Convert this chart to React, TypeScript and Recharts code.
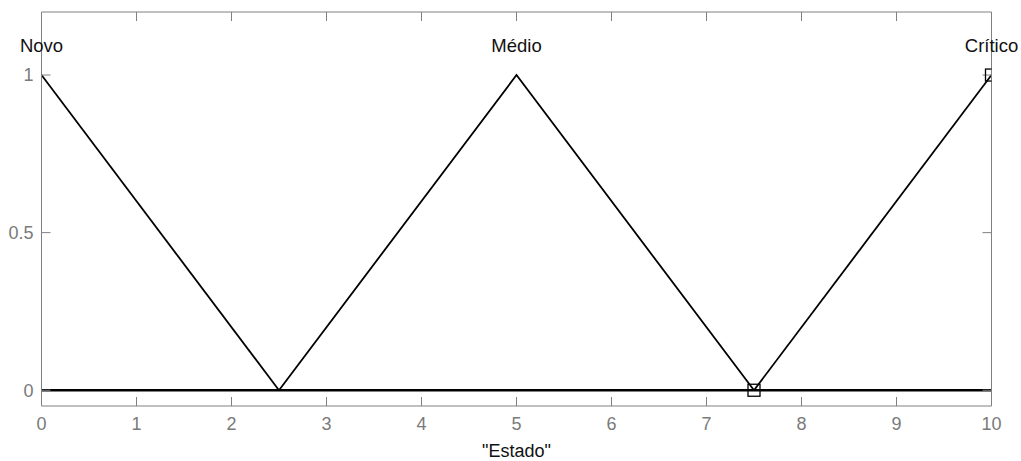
import { ComposedChart, Line, Scatter, XAxis, YAxis } from "recharts";

const xTicks = [0, 1, 2, 3, 4, 5, 6, 7, 8, 9, 10];
const yTicks = [0, 0.5, 1];

const novoX = [0, 2.5];
const novoY = [1, 0];
const medioX = [2.5, 5, 7.5];
const medioY = [0, 1, 0];
const criticoX = [7.5, 10];
const criticoY = [0, 1];
const baseX = [0, 10];
const baseY = [0, 0];
const markerX = [7.5, 10];
const markerY = [0, 1];

const termNames = ["Novo", "Médio", "Crítico"];
const termPeaks = [0, 5, 10];
const termLabelY = 1.095;

const pts = (xs: number[], ys: number[]) => xs.map((x, i) => ({ x, y: ys[i] }));

const novo = pts(novoX, novoY);
const medio = pts(medioX, medioY);
const critico = pts(criticoX, criticoY);
const base = pts(baseX, baseY);
const markers = pts(markerX, markerY);
const termLabels = termNames.map((name, i) => ({ name, x: termPeaks[i], y: termLabelY }));

const gray = "#808080";
const tickStyle = { fill: "#7a7a7a", fontSize: 18 };

const SquareMarker = (p: any) => (
  <rect x={p.cx - 6} y={p.cy - 6} width={12} height={12} fill="none" stroke="#000" strokeWidth={1.3} />
);

const TermLabel = (p: any) => (
  <text x={p.cx} y={p.cy} textAnchor="middle" dominantBaseline="central" fontSize={18.5} fill="#111">
    {p.payload.name}
  </text>
);

export default function App() {
  return (
    <div style={{ position: "absolute", left: 0, top: 0, fontFamily: "'Liberation Sans', Arial, sans-serif" }}>
      <ComposedChart width={1021} height={461} margin={{ top: 0, right: 0, bottom: 0, left: 0 }}>
        <XAxis
          xAxisId="b"
          type="number"
          dataKey="x"
          domain={[0, 10]}
          ticks={xTicks}
          allowDataOverflow
          height={55}
          stroke={gray}
          tickSize={-9}
          tickMargin={20}
          tick={tickStyle}
          label={{ value: '"Estado"', position: "insideBottom", offset: 4, fill: "#111", fontSize: 18 }}
        />
        <XAxis
          xAxisId="t"
          orientation="top"
          type="number"
          dataKey="x"
          domain={[0, 10]}
          ticks={xTicks}
          height={12}
          stroke={gray}
          tickSize={-9}
          tickFormatter={() => ""}
        />
        <YAxis
          yAxisId="l"
          type="number"
          dataKey="y"
          domain={[-0.05, 1.2]}
          ticks={yTicks}
          allowDataOverflow
          width={41.5}
          stroke={gray}
          tickSize={-9}
          tickMargin={17}
          tick={tickStyle}
        />
        <YAxis
          yAxisId="r"
          orientation="right"
          type="number"
          dataKey="y"
          domain={[-0.05, 1.2]}
          ticks={yTicks}
          width={29.5}
          stroke={gray}
          tickSize={-9}
          tickFormatter={() => ""}
        />
        <Line xAxisId="b" yAxisId="l" data={base} dataKey="y" stroke="#000" strokeWidth={2.5} dot={false} isAnimationActive={false} />
        <Line xAxisId="b" yAxisId="l" data={novo} dataKey="y" stroke="#000" strokeWidth={1.8} dot={false} isAnimationActive={false} />
        <Line xAxisId="b" yAxisId="l" data={medio} dataKey="y" stroke="#000" strokeWidth={1.8} dot={false} isAnimationActive={false} />
        <Line xAxisId="b" yAxisId="l" data={critico} dataKey="y" stroke="#000" strokeWidth={1.8} dot={false} isAnimationActive={false} />
        <Scatter xAxisId="b" yAxisId="l" data={markers} dataKey="y" shape={SquareMarker} isAnimationActive={false} />
        <Scatter xAxisId="t" yAxisId="r" data={termLabels} dataKey="y" shape={TermLabel} isAnimationActive={false} />
      </ComposedChart>
    </div>
  );
}
